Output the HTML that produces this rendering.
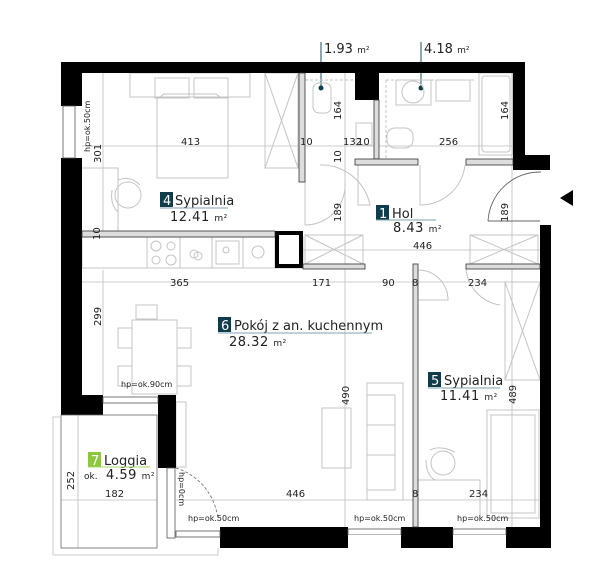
<!DOCTYPE html>
<html><head><meta charset="utf-8"><style>
html,body{margin:0;padding:0;background:#fff;}
svg{display:block;}
text{font-family:"DejaVu Sans","Liberation Sans",sans-serif;fill:#222;}
.d{font-size:10px;}
.f{fill:none;stroke:#c4c4c4;stroke-width:1;}
.dl{stroke:#bdbdbd;stroke-width:0.8;fill:none;}
.w{fill:#000;}
.pw{fill:#ddd;stroke:#333;stroke-width:0.8;}
.lab{font-size:13px;}
.area{font-size:13px;letter-spacing:0.5px;}
</style></head><body>
<svg width="600" height="581" viewBox="0 0 600 581" xmlns="http://www.w3.org/2000/svg">
<!-- dimension lines -->
<g class="dl">
<line x1="82" y1="146" x2="513" y2="146"/>
<line x1="303" y1="250" x2="540" y2="250"/>
<line x1="82" y1="282" x2="540" y2="282"/>
<line x1="61" y1="500" x2="157" y2="500"/>
<line x1="176" y1="500" x2="540" y2="500"/>
<line x1="103" y1="73" x2="103" y2="232"/>
<line x1="103" y1="270" x2="103" y2="395"/>
<line x1="345" y1="73" x2="345" y2="527"/>
<line x1="512" y1="73" x2="512" y2="527"/>
<line x1="78" y1="415" x2="78" y2="548"/>
<line x1="345" y1="73" x2="345" y2="73"/>
</g>
<!-- leaders -->
<line x1="321" y1="42" x2="321" y2="88" stroke="#1d4f5e" stroke-width="1"/>
<circle cx="321" cy="88" r="2.5" fill="#0f3d4c"/>
<line x1="421" y1="42" x2="421" y2="88" stroke="#1d4f5e" stroke-width="1"/>
<circle cx="421" cy="88" r="2.5" fill="#0f3d4c"/>
<text x="324" y="53" style="font-size:13px">1.93 <tspan style="font-size:9px">m²</tspan></text>
<text x="424" y="53" style="font-size:13px">4.18 <tspan style="font-size:9px">m²</tspan></text>
<!-- entrance triangle -->
<polygon points="560,198 573,190 573,206" fill="#000"/>

<!-- furniture bedroom 4 -->
<g class="f">
<rect x="130" y="73" width="120" height="24"/>
<rect x="155" y="78" width="34" height="20"/>
<rect x="194" y="78" width="34" height="20"/>
<polyline points="157,97 157,178 228,178 228,97 220,97 216,94 164,94 160,97 157,97"/>
<rect x="265" y="73" width="33" height="95"/>
<line x1="265" y1="73" x2="298" y2="168"/><line x1="298" y1="73" x2="265" y2="168"/>
<polyline points="82,168 118,168 118,232"/>
<circle cx="128" cy="195" r="13"/>
<path d="M118 180 Q130 175 140 185 M112 190 Q110 205 118 212"/>
<!-- kitchen -->
<rect x="82" y="237" width="221" height="31"/>
<rect x="147" y="237" width="33" height="31"/>
<circle cx="156" cy="246" r="5"/><circle cx="171" cy="246" r="4"/><circle cx="156" cy="260" r="4"/><circle cx="171" cy="260" r="5"/>
<rect x="180" y="237" width="32" height="31"/>
<circle cx="194" cy="254" r="4"/><circle cx="198" cy="256" r="4"/>
<rect x="212" y="237" width="31" height="31"/>
<rect x="216" y="241" width="23" height="23"/>
<circle cx="226" cy="250" r="3"/>
<rect x="243" y="237" width="32" height="31"/>
<circle cx="258" cy="252" r="6"/>
<!-- wardrobe hol -->
<rect x="305" y="235" width="58" height="29"/>
<line x1="305" y1="235" x2="363" y2="264"/><line x1="363" y1="235" x2="305" y2="264"/>
<rect x="470" y="235" width="68" height="29"/>
<line x1="470" y1="235" x2="538" y2="264"/><line x1="538" y1="235" x2="470" y2="264"/>
<line x1="303" y1="264" x2="303" y2="264"/>
<!-- bathroom -->
<rect x="313" y="83" width="18" height="30" rx="6"/>
<rect x="356" y="123" width="16" height="22"/>
<rect x="387" y="128" width="26" height="20" rx="8"/>
<rect x="396" y="80" width="35" height="25"/>
<circle cx="413" cy="92" r="11"/>
<rect x="436" y="80" width="34" height="21"/>
<rect x="479" y="73" width="34" height="82"/>
<rect x="482" y="76" width="28" height="76" rx="3"/>
<line x1="305" y1="80" x2="355" y2="80" stroke-dasharray="3,2"/>
<line x1="386" y1="80" x2="476" y2="80" stroke-dasharray="3,2"/>
<line x1="386" y1="80" x2="386" y2="159" stroke-dasharray="3,2"/>
<!-- doors -->
<path d="M305 182 L305 225 M305 225 A40 40 0 0 0 345 182"/>
<path d="M358 165 L358 205 L370 205 A50 50 0 0 0 320 165"/>
<path d="M420 165 L420 205 A45 45 0 0 0 465 165"/>
<path d="M418 300 L448 300 A30 30 0 0 0 418 270"/>
<path d="M466 268 A40 40 0 0 0 500 305"/>
<!-- living -->
<rect x="136" y="305" width="21" height="14"/>
<rect x="132" y="320" width="45" height="74"/>
<rect x="118" y="328" width="14" height="20"/><rect x="177" y="328" width="14" height="20"/>
<rect x="118" y="366" width="14" height="20"/><rect x="177" y="366" width="14" height="20"/>
<rect x="176" y="402" width="10" height="65"/>
<rect x="322" y="408" width="29" height="60"/>
<rect x="367" y="383" width="36" height="117"/>
<rect x="367" y="395" width="28" height="95"/>
<line x1="367" y1="425" x2="395" y2="425"/><line x1="367" y1="455" x2="395" y2="455"/>
<!-- bedroom 5 -->
<rect x="505" y="282" width="35" height="98"/>
<line x1="505" y1="282" x2="540" y2="380"/><line x1="540" y1="282" x2="505" y2="380"/>
<rect x="487" y="410" width="52" height="108"/>
<rect x="491" y="415" width="44" height="98"/>
<polyline points="418,480 480,480 480,518"/>
<circle cx="443" cy="463" r="12"/>
<path d="M430 450 Q440 445 455 452 M426 460 Q426 475 435 480"/>
</g>

<!-- walls -->
<g class="w">
<rect x="61" y="62" width="464" height="11"/>
<rect x="61" y="62" width="21" height="44"/>
<rect x="61" y="158" width="21" height="257"/>
<rect x="61" y="395" width="42" height="20"/>
<rect x="158" y="395" width="18" height="73"/>
<rect x="513" y="62" width="12" height="108"/>
<rect x="513" y="155" width="37" height="15"/>
<rect x="540" y="225" width="11" height="323"/>
<rect x="220" y="527" width="128" height="21"/>
<rect x="401" y="527" width="52" height="21"/>
<rect x="506" y="527" width="45" height="21"/>
<rect x="355" y="73" width="24" height="27"/>
<rect x="275" y="231" width="28" height="37"/>
</g>
<rect x="279" y="235" width="20" height="29" fill="#fff"/>
<!-- thin walls -->
<rect x="82" y="231" width="193" height="6" class="pw"/>
<rect x="299" y="73" width="6" height="109" class="pw"/>
<rect x="374" y="100" width="5" height="59" class="pw"/>
<rect x="355" y="159" width="63" height="6" class="pw"/>
<rect x="466" y="159" width="47" height="6" class="pw"/>
<rect x="303" y="264" width="62" height="5" class="pw"/>
<rect x="466" y="264" width="74" height="5" class="pw"/>
<rect x="413" y="264" width="5" height="263" class="pw"/>
<!-- windows -->
<g fill="#fff" stroke="#555" stroke-width="0.8">
<rect x="63" y="106" width="12" height="52"/>
<rect x="103" y="397" width="55" height="6"/>
<rect x="348" y="529" width="53" height="6"/>
<rect x="453" y="529" width="53" height="6"/>
<rect x="167" y="468" width="8" height="70"/>
<rect x="176" y="531" width="44" height="6"/>
</g>
<rect x="348" y="535" width="53" height="13" fill="#fff"/>
<rect x="453" y="535" width="53" height="13" fill="#fff"/>
<!-- entrance door -->
<path d="M540 221 L488 221 M488 221 A52 52 0 0 1 541 172" fill="none" stroke="#666" stroke-width="0.9"/>
<path d="M176 468 A60 60 0 0 1 218 520" fill="none" stroke="#666" stroke-width="0.8" stroke-dasharray="3,2"/>
<!-- loggia -->
<rect x="61" y="415" width="96" height="133" fill="none" stroke="#666" stroke-width="0.8"/>
<polyline points="53,555 53,417 61,417" fill="none" stroke="#ccc"/>
<polyline points="53,555 218,555 218,548" fill="none" stroke="#ccc"/>

<!-- dimension text -->
<g class="d">
<text x="181" y="145">413</text>
<text x="343" y="145">132</text>
<text x="300" y="145">10</text>
<text x="357" y="145">10</text>
<text x="439" y="145">256</text>
<text x="413" y="249">446</text>
<text x="170" y="286">365</text>
<text x="312" y="286">171</text>
<text x="382" y="286">90</text>
<text x="412" y="286">8</text>
<text x="468" y="286">234</text>
<text x="105" y="497">182</text>
<text x="286" y="497">446</text>
<text x="412" y="497">8</text>
<text x="469" y="497">234</text>
<text transform="translate(101,163) rotate(-90)">301</text>
<text transform="translate(101,326) rotate(-90)">299</text>
<text transform="translate(341,120) rotate(-90)">164</text>
<text transform="translate(341,163) rotate(-90)">10</text>
<text transform="translate(341,222) rotate(-90)">189</text>
<text transform="translate(508,120) rotate(-90)">164</text>
<text transform="translate(508,222) rotate(-90)">189</text>
<text transform="translate(100,240) rotate(-90)">10</text>
<text transform="translate(349,405) rotate(-90)">490</text>
<text transform="translate(516,404) rotate(-90)">489</text>
<text transform="translate(74,490) rotate(-90)">252</text>
</g>
<g style="font-size:8px">
<text transform="translate(90,152) rotate(-90)">hp=ok.50cm</text>
<text x="121" y="387">hp=ok.90cm</text>
<text transform="translate(179,472) rotate(90)">hp=0cm</text>
<text x="188" y="521">hp=ok.50cm</text>
<text x="354" y="521">hp=ok.50cm</text>
<text x="457" y="521">hp=ok.50cm</text>
</g>

<!-- room labels -->
<rect x="160" y="192" width="13" height="15" fill="#0f3d4c"/>
<text x="163" y="205" class="lab" style="fill:#fff">4</text>
<text x="175" y="205" class="lab">Sypialnia</text>
<line x1="160" y1="208" x2="228" y2="208" stroke="#7fa2ae"/>
<text x="170" y="221" class="area">12.41 <tspan style="font-size:9px">m²</tspan></text>

<rect x="376" y="205" width="13" height="15" fill="#0f3d4c"/>
<text x="379" y="218" class="lab" style="fill:#fff">1</text>
<text x="392" y="218" class="lab">Hol</text>
<line x1="376" y1="220" x2="436" y2="220" stroke="#7fa2ae"/>
<text x="393" y="232" class="area">8.43 <tspan style="font-size:9px">m²</tspan></text>

<rect x="218" y="317" width="13" height="15" fill="#0f3d4c"/>
<text x="221" y="330" class="lab" style="fill:#fff">6</text>
<text x="234" y="330" class="lab">Pokój z an. kuchennym</text>
<line x1="218" y1="333" x2="372" y2="333" stroke="#7fa2ae"/>
<text x="229" y="346" class="area">28.32 <tspan style="font-size:9px">m²</tspan></text>

<rect x="428" y="372" width="13" height="15" fill="#0f3d4c"/>
<text x="431" y="385" class="lab" style="fill:#fff">5</text>
<text x="444" y="385" class="lab">Sypialnia</text>
<line x1="428" y1="388" x2="500" y2="388" stroke="#7fa2ae"/>
<text x="440" y="400" class="area">11.41 <tspan style="font-size:9px">m²</tspan></text>

<rect x="88" y="452" width="13" height="15" fill="#8dc63f"/>
<text x="91" y="465" class="lab" style="fill:#fff">7</text>
<text x="104" y="465" class="lab">Loggia</text>
<line x1="88" y1="467" x2="150" y2="467" stroke="#a9d46a"/>
<text x="84" y="479" style="font-size:9px">ok.</text>
<text x="106" y="479" class="area">4.59 <tspan style="font-size:9px">m²</tspan></text>
</svg>
</body></html>
